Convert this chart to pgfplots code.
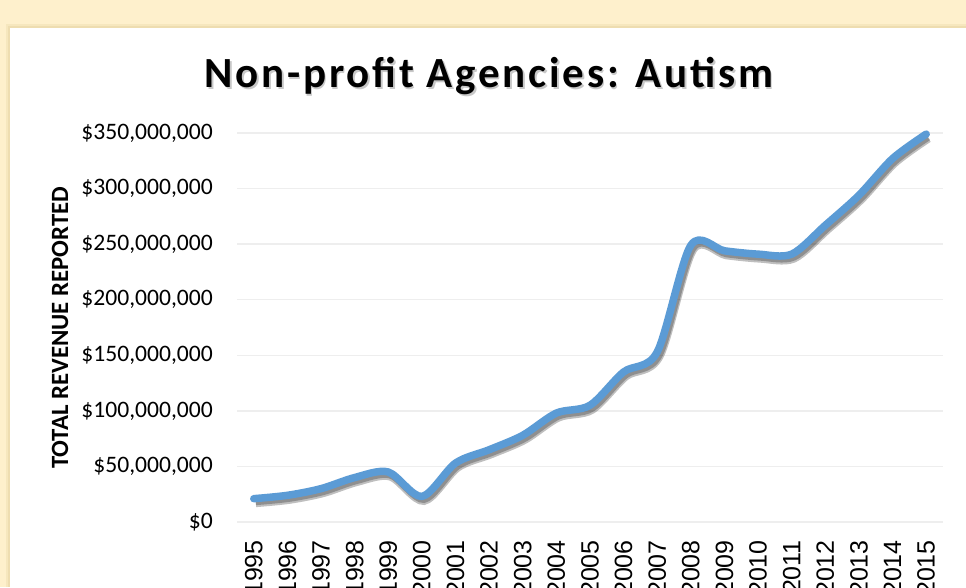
\documentclass[border=0pt]{standalone}
\usepackage{pgfplots}
\pgfplotsset{compat=1.18}
\usepackage{pgfplotstable}
\usepackage{fontspec}
\setmainfont{Carlito}
\newfontfamily\titlefont[LetterSpace=6.5]{Carlito}
\newfontfamily\xfont{Liberation Sans}
\definecolor{bgyellow}{HTML}{FEF0CC}
\definecolor{panelshadow}{HTML}{EEDDB0}
\definecolor{linecol}{HTML}{5B9BD5}
\definecolor{gridcol}{HTML}{EEEEEE}

\pgfplotstableread{
year value
1995 21000000
1996 24000000
1997 30000000
1998 40000000
1999 45000000
2000 23000000
2001 53000000
2002 65000000
2003 78000000
2004 98000000
2005 105000000
2006 135000000
2007 153000000
2008 249000000
2009 244000000
2010 241000000
2011 241000000
2012 267000000
2013 294000000
2014 327000000
2015 349000000
}\revtable

\begin{document}
\begin{tikzpicture}[x=1pt,y=1pt]
\useasboundingbox (0,0) rectangle (966,587);
\clip (0,0) rectangle (966,587);
\fill[bgyellow] (0,0) rectangle (966,587);
\fill[panelshadow!50!bgyellow] (6,0) rectangle (970,563);
\fill[panelshadow] (8,0) rectangle (970,561);
\fill[white] (10,0) rectangle (970,559);
\node[font=\titlefont\bfseries\fontsize{43}{50}\selectfont, text=black!30, opacity=0.7] at (490.5,509) {Non-profit Agencies: Autism};
\node[font=\titlefont\bfseries\fontsize{43}{50}\selectfont, text=black] at (489,511) {Non-profit Agencies: Autism};
\begin{axis}[
  at={(237pt,65pt)}, anchor=south west,
  scale only axis, width=706pt, height=389pt,
  xmin=1994.5, xmax=2015.5,
  ymin=0, ymax=350000000,
  scaled y ticks=false,
  clip=false,
  axis line style={draw=none},
  tick style={draw=none},
  xtick={1995,...,2015},
  xticklabels={1995,1996,1997,1998,1999,2000,2001,2002,2003,2004,2005,2006,2007,2008,2009,2010,2011,2012,2013,2014,2015},
  ytick={0,50000000,100000000,150000000,200000000,250000000,300000000,350000000},
  yticklabels={{\$0},{\$50,000,000},{\$100,000,000},{\$150,000,000},{\$200,000,000},{\$250,000,000},{\$300,000,000},{\$350,000,000}},
  yticklabel style={font=\fontsize{23.6}{27}\selectfont, inner sep=0pt, xshift=-24pt, anchor=east},
  xticklabel style={font=\xfont\fontsize{25}{29}\selectfont, inner sep=0pt, yshift=-18pt, rotate=90, anchor=east},
  ymajorgrids,
  grid style={gridcol, line width=1.3pt},
  ylabel={TOTAL REVENUE REPORTED},
  ylabel style={font=\bfseries\fontsize{24.8}{28}\selectfont, at={(axis description cs:-0.2507,0.499)}, rotate=0, anchor=center},
]
\addplot[black, opacity=0.25, line width=9pt, smooth, xshift=2pt, yshift=-4pt] table[x=year, y=value] {\revtable};
\addplot[black, opacity=0.25, line width=7pt, smooth, xshift=2pt, yshift=-3pt] table[x=year, y=value] {\revtable};
\addplot[linecol, line width=7.5pt, smooth, line cap=round, line join=round] table[x=year, y=value] {\revtable};
\end{axis}
\end{tikzpicture}
\end{document}
